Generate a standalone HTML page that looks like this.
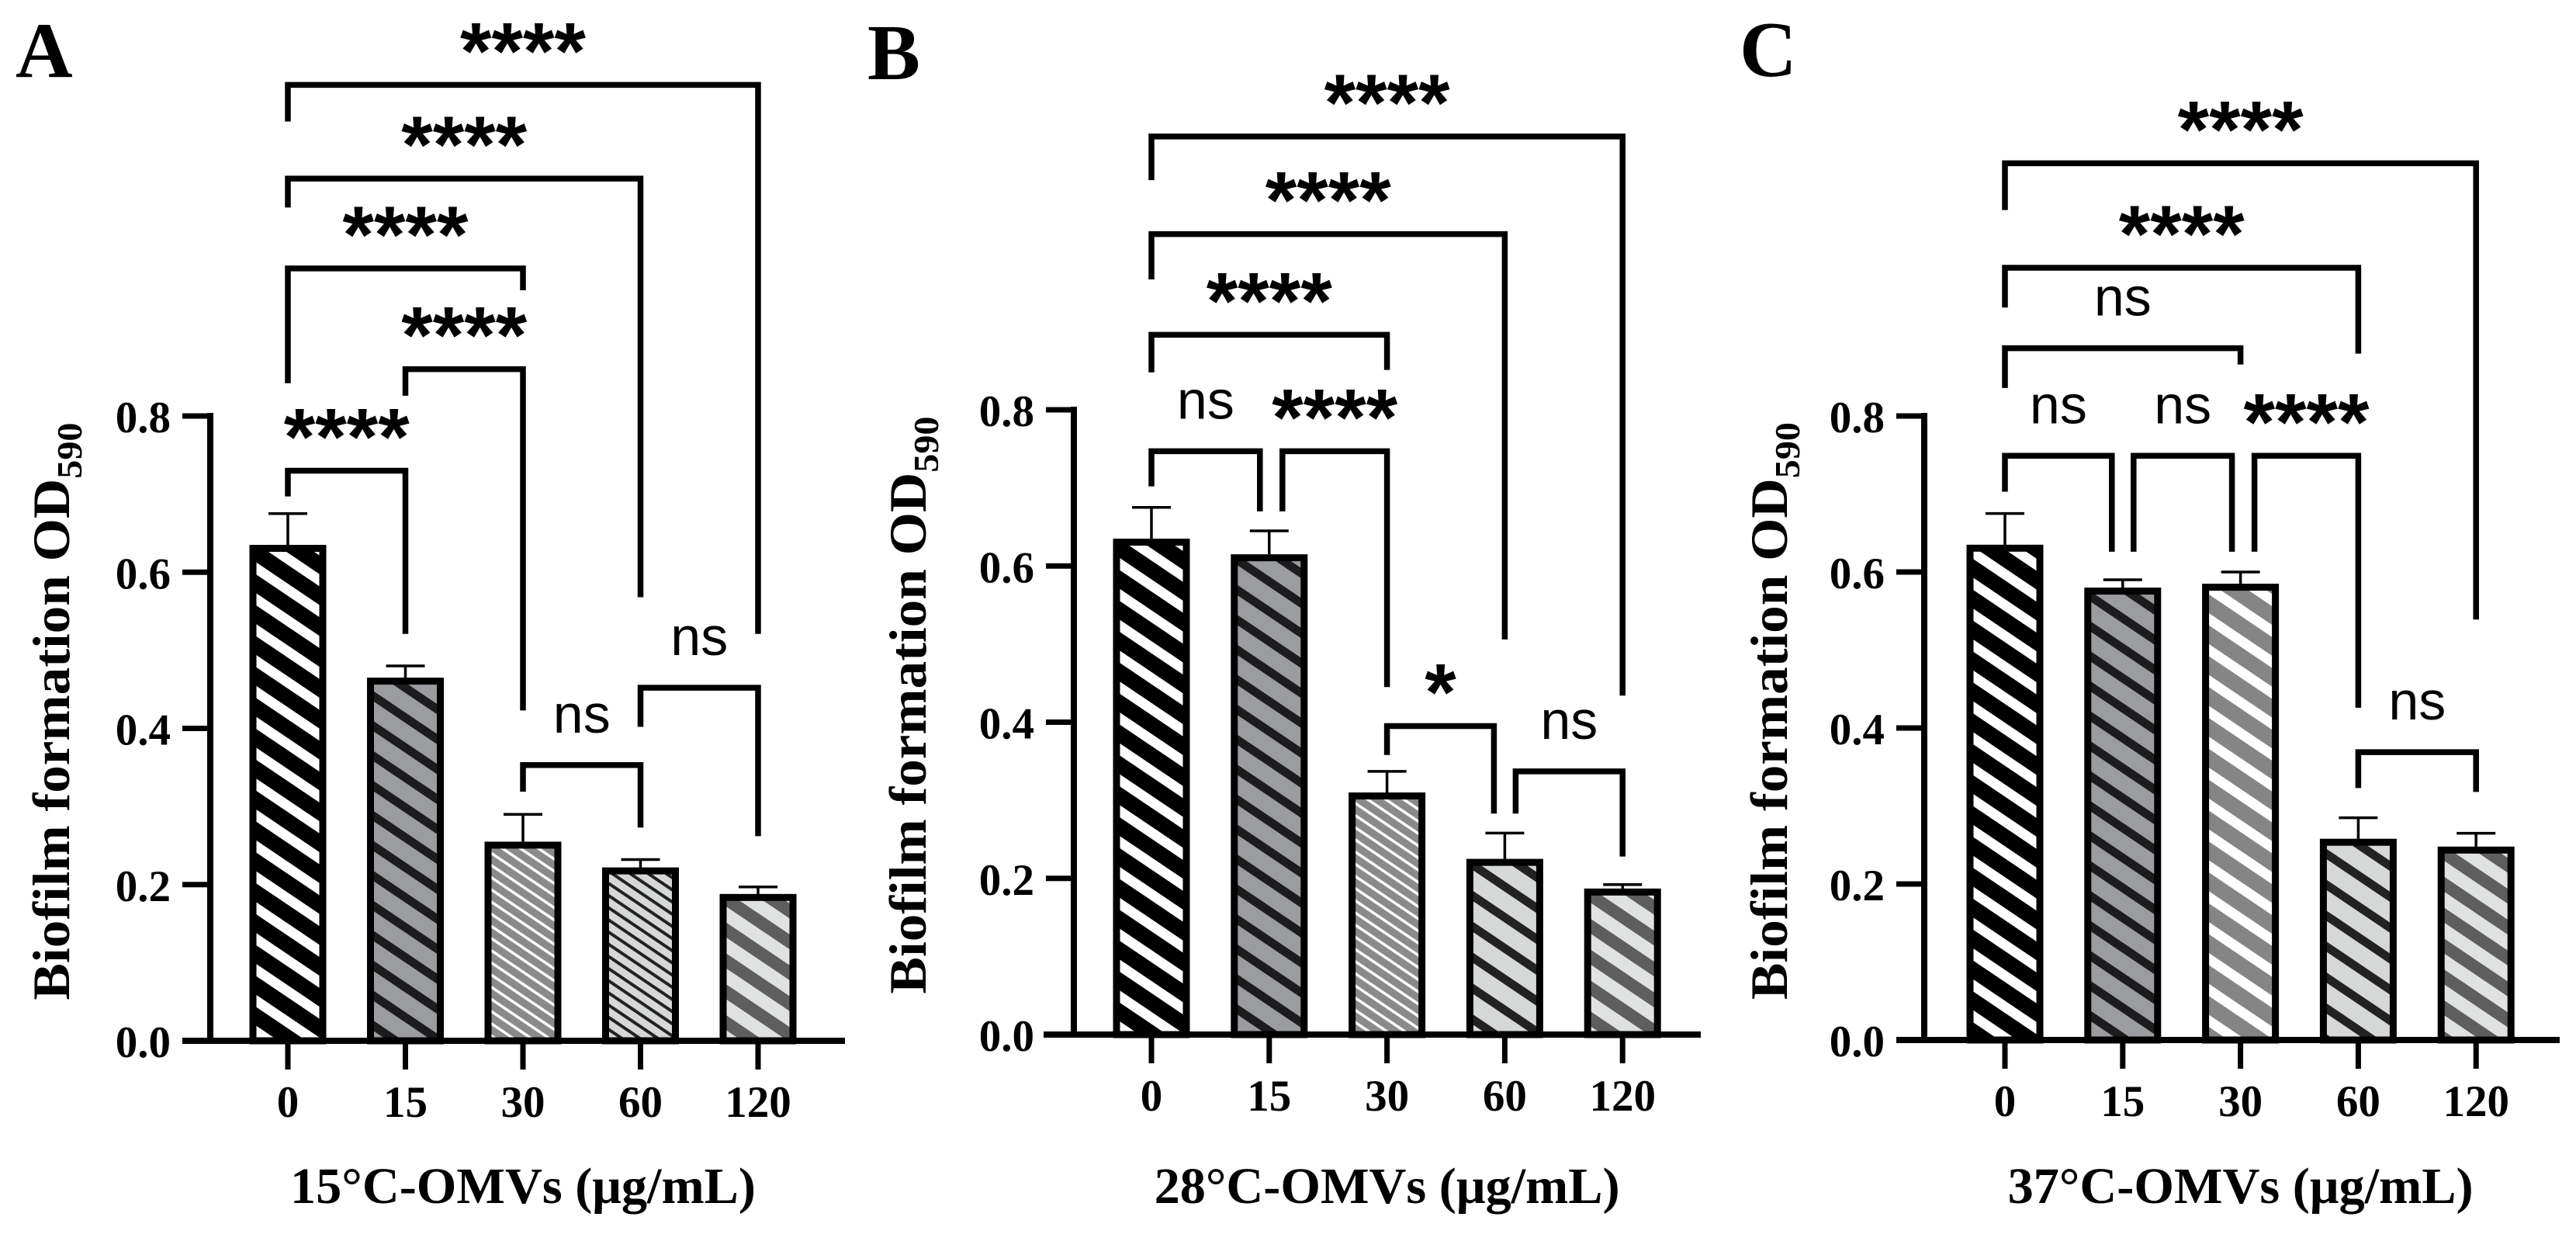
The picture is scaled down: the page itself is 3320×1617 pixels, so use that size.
<!DOCTYPE html>
<html><head><meta charset="utf-8"><title>Biofilm formation charts</title>
<style>
html,body{margin:0;padding:0;background:#fff;}
svg{display:block;}
</style></head>
<body>
<svg id="fig" xmlns="http://www.w3.org/2000/svg" width="3320" height="1617" viewBox="0 0 3320 1617">
<defs>
  <pattern id="pBW" patternUnits="userSpaceOnUse" width="33" height="33" patternTransform="rotate(-56)"><rect width="33" height="33" fill="#000"/><rect width="13" height="33" fill="#fff"/></pattern>
  <pattern id="pGD" patternUnits="userSpaceOnUse" width="32" height="32" patternTransform="rotate(-56)"><rect width="32" height="32" fill="#9b9ca0"/><rect width="11" height="32" fill="#1c1c1e"/></pattern>
  <pattern id="pGW" patternUnits="userSpaceOnUse" width="13" height="13" patternTransform="rotate(-56)"><rect width="13" height="13" fill="#8a8a8a"/><rect width="3.5" height="13" fill="#fff"/></pattern>
  <pattern id="pLD" patternUnits="userSpaceOnUse" width="13" height="13" patternTransform="rotate(-56)"><rect width="13" height="13" fill="#d6d8d8"/><rect width="4" height="13" fill="#222"/></pattern>
  <pattern id="pDL" patternUnits="userSpaceOnUse" width="33" height="33" patternTransform="rotate(-56)"><rect width="33" height="33" fill="#5e5e5e"/><rect width="17" height="33" fill="#e0e2e2"/></pattern>
  <pattern id="pLDw" patternUnits="userSpaceOnUse" width="33" height="33" patternTransform="rotate(-56)"><rect width="33" height="33" fill="#d6d8d8"/><rect width="11" height="33" fill="#222"/></pattern>
  <pattern id="pGWw" patternUnits="userSpaceOnUse" width="33" height="33" patternTransform="rotate(-56)"><rect width="33" height="33" fill="#858585"/><rect width="13" height="33" fill="#fff"/></pattern>
</defs>
</svg>
<script>
// ---- data ----
const categories = ["0", "15", "30", "60", "120"];
const yTickValues = [0.0, 0.2, 0.4, 0.6, 0.8];
const yTickLabels = ["0.0", "0.2", "0.4", "0.6", "0.8"];
const valuesA = [0.635, 0.465, 0.255, 0.222, 0.188];
const errorsA = [0.675, 0.480, 0.290, 0.232, 0.197];
const valuesB = [0.635, 0.615, 0.310, 0.225, 0.187];
const errorsB = [0.675, 0.645, 0.337, 0.258, 0.192];
const valuesC = [0.635, 0.580, 0.585, 0.258, 0.248];
const errorsC = [0.675, 0.590, 0.600, 0.285, 0.265];
// brackets: [from index, to index, top value, left leg end value, right leg end value, label]
const bracketsA = [
  [0,1,0.730,0.697,0.521,"****"],
  [1,2,0.860,0.826,0.423,"****"],
  [0,2,0.989,0.842,0.961,"****"],
  [0,3,1.104,1.067,0.568,"****"],
  [0,4,1.224,1.177,0.521,"****"],
  [2,3,0.353,0.319,0.273,"ns"],
  [3,4,0.452,0.402,0.262,"ns"]
];
const bracketsB = [
  [0,1,0.747,0.702,0.670,"ns"],
  [1,2,0.747,0.670,0.445,"****"],
  [0,2,0.896,0.848,0.851,"****"],
  [0,3,1.025,0.967,0.506,"****"],
  [0,4,1.150,1.094,0.434,"****"],
  [2,3,0.395,0.358,0.283,"*"],
  [3,4,0.337,0.283,0.228,"ns"]
];
const bracketsC = [
  [0,1,0.749,0.703,0.626,"ns"],
  [1,2,0.749,0.626,0.626,"ns"],
  [2,3,0.749,0.626,0.426,"****"],
  [0,2,0.887,0.836,0.866,"ns"],
  [0,3,0.990,0.939,0.880,"****"],
  [0,4,1.124,1.064,0.539,"****"],
  [3,4,0.369,0.323,0.318,"ns"]
];

const NS = "http://www.w3.org/2000/svg";
const svg = document.getElementById("fig");
function mk(tag, attrs, parent) {
  const e = document.createElementNS(NS, tag);
  for (const k in attrs) e.setAttribute(k, attrs[k]);
  (parent || svg).appendChild(e);
  return e;
}

const panels = [
  {id:"a", letter:"A", lx:20, ly:99, axisX:271, xStart:235, xEnd:1089, y0:1341, y8:536, c0:371, step:151.5,
   vals:valuesA, errs:errorsA, br:bracketsA, fills:["pBW","pGD","pGW","pLD","pDL"],
   dx:[[0,0],[0,0],[0,0],[0,0],[0,0],[0,0],[0,0]], title:"15°C-OMVs (μg/mL)", ytx:89},
  {id:"b", letter:"B", lx:1118, ly:102, axisX:1384, xStart:1345, xEnd:2192, y0:1333, y8:528, c0:1484, step:151.8,
   vals:valuesB, errs:errorsB, br:bracketsB, fills:["pBW","pGD","pGW","pLDw","pDL"],
   dx:[[0,-12],[17,0],[0,0],[0,0],[0,0],[0,-14],[14,0]], title:"28°C-OMVs (μg/mL)", ytx:1193},
  {id:"c", letter:"C", lx:2242, ly:98, axisX:2480, xStart:2444, xEnd:3299, y0:1340, y8:536, c0:2584, step:151.8,
   vals:valuesC, errs:errorsC, br:bracketsC, fills:["pBW","pGD","pGWw","pLDw","pDL"],
   dx:[[0,-14],[14,-11],[18,0],[0,0],[0,0],[0,0],[0,0]], title:"37°C-OMVs (μg/mL)", ytx:2303}
];

panels.forEach(function(p) {
  const g = mk("g", {});
  
  
  const yScale = function(v) { return p.y0 - (p.y0 - p.y8) * v / 0.8; };
  const xScale = function(i) { return p.c0 + p.step * i; };

  const letter = mk("text", {x:p.lx, y:p.ly, "font-family":"Liberation Serif, serif", "font-weight":"bold", "font-size":102}, g);
  letter.textContent = p.letter;
  
  

  // bars
  p.vals.forEach(function(v, i) {
    const cx = xScale(i);
    const bar = mk("rect", {x:cx-45, y:yScale(v)+4.5, width:90, height:p.y0-yScale(v)-4.5, fill:"url(#"+p.fills[i]+")", stroke:"#000", "stroke-width":9}, g);
    
    
    const ey = yScale(p.errs[i]);
    const err = mk("path", {d:"M"+cx+","+yScale(v)+"V"+ey+"M"+(cx-25)+","+ey+"H"+(cx+25), stroke:"#000", "stroke-width":3.5, fill:"none"}, g);
    
    
  });

  // axes
  const yAxis = mk("line", {x1:p.axisX, y1:p.y8-4, x2:p.axisX, y2:p.y0+4, stroke:"#000", "stroke-width":8}, g);
  
  
  const xAxis = mk("line", {x1:p.xStart, y1:p.y0, x2:p.xEnd, y2:p.y0, stroke:"#000", "stroke-width":8}, g);
  
  

  yTickValues.forEach(function(t, i) {
    const y = yScale(t);
    const tk = mk("line", {x1:p.axisX-36, y1:y, x2:p.axisX, y2:y, stroke:"#000", "stroke-width":7}, g);
    
    
    const lb = mk("text", {x:p.axisX-51, y:y+21, "text-anchor":"end", "font-family":"Liberation Serif, serif", "font-weight":"bold", "font-size":57}, g);
    lb.textContent = yTickLabels[i];
    
    
  });
  categories.forEach(function(c, i) {
    const x = xScale(i);
    const tk = mk("line", {x1:x, y1:p.y0, x2:x, y2:p.y0+37, stroke:"#000", "stroke-width":7}, g);
    
    
    const lb = mk("text", {x:x, y:p.y0+98, "text-anchor":"middle", "font-family":"Liberation Serif, serif", "font-weight":"bold", "font-size":57}, g);
    lb.textContent = c;
    
    
  });

  const xt = mk("text", {x:(xScale(0)+xScale(4))/2, y:1550, "text-anchor":"middle", "font-family":"Liberation Serif, serif", "font-weight":"bold", "font-size":66, textLength:600, lengthAdjust:"spacingAndGlyphs"}, g);
  xt.textContent = p.title;
  
  

  const yc = (p.y0 + p.y8) / 2 - 22;
  const yt = mk("text", {x:0, y:0, transform:"translate("+p.ytx+","+yc+") rotate(-90)", "text-anchor":"middle", "font-family":"Liberation Serif, serif", "font-weight":"bold", "font-size":68, textLength:744, lengthAdjust:"spacingAndGlyphs"}, g);
  
  
  const t1 = mk("tspan", {}, yt);
  t1.textContent = "Biofilm formation OD";
  const t2 = mk("tspan", {"font-size":46, dy:16}, yt);
  t2.textContent = "590";

  // significance brackets
  p.br.forEach(function(b, k) {
    const xl = xScale(b[0]) + p.dx[k][0];
    const xr = xScale(b[1]) + p.dx[k][1];
    const yt2 = yScale(b[2]);
    const path = mk("path", {d:"M"+xl+","+yScale(b[3])+"V"+yt2+"H"+xr+"V"+yScale(b[4]), stroke:"#000", "stroke-width":7.5, fill:"none", "stroke-linejoin":"miter"}, g);
    
    
    const mx = (xl + xr) / 2;
    let lab;
    if (b[5] === "ns") {
      lab = mk("text", {x:mx, y:yt2-42, "text-anchor":"middle", "font-family":"Liberation Sans, sans-serif", "font-size":70}, g);
    } else {
      const attrs = {x:mx, y:yt2-8, "text-anchor":"middle", "font-family":"Liberation Sans, sans-serif", "font-weight":"bold", "font-size":104};
      if (b[5].length === 4) { attrs.textLength = 162; attrs.lengthAdjust = "spacing"; }
      lab = mk("text", attrs, g);
    }
    lab.textContent = b[5];
    
    
  });
});
</script>
</body></html>
